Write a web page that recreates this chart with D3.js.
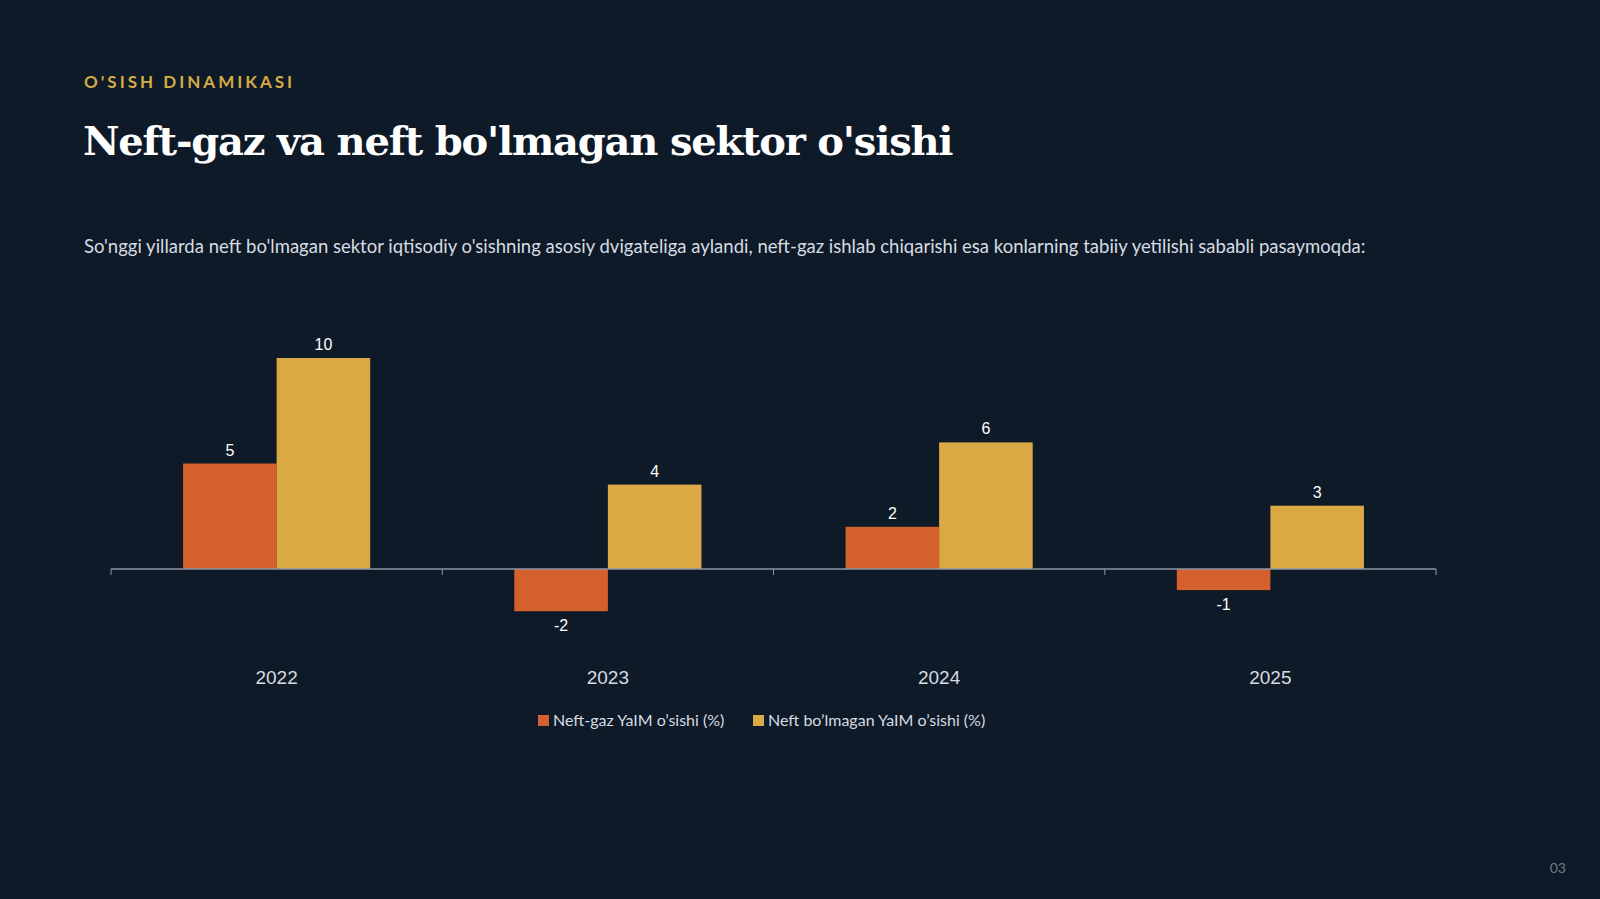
<!DOCTYPE html>
<html><head><meta charset="utf-8">
<script src="https://cdn.jsdelivr.net/npm/d3@7"></script>
<style>body{margin:0;background:#0e1a27;}svg{display:block}</style>
</head><body><svg id="c" width="1600" height="899"></svg>
<script>
const years = ["2022","2023","2024","2025"];
const seriesNames = ["Neft-gaz YaIM o\u2019sishi (%)","Neft bo\u2019lmagan YaIM o\u2019sishi (%)"];
const oilGas = [5,-2,2,-1];
const nonOil = [10,4,6,3];
const colors = ["#d4612d","#dba944"];

const svg = d3.select("#c");
svg.append("rect").attr("width",1600).attr("height",899).attr("fill","#0e1a27");
svg.append("text").attr("x",84).attr("y",88).attr("fill","#d4ab45").attr("font-family","Lato").attr("font-weight",700).attr("font-size",17).attr("letter-spacing",3).text("O'SISH DINAMIKASI");
svg.append("text").attr("x",83).attr("y",155).attr("fill","#fff").attr("font-family","DejaVu Serif").attr("font-weight",700).attr("font-size",40).attr("letter-spacing",-1.2).text("Neft-gaz va neft bo'lmagan sektor o'sishi");
svg.append("text").attr("x",84).attr("y",253).attr("fill","#d6dbe2").attr("font-family","Lato").attr("font-size",18.5).text("So'nggi yillarda neft bo'lmagan sektor iqtisodiy o'sishning asosiy dvigateliga aylandi, neft-gaz ishlab chiqarishi esa konlarning tabiiy yetilishi sababli pasaymoqda:");
svg.append("text").attr("x",1566).attr("y",873).attr("text-anchor","end").attr("fill","#6f7a88").attr("font-family","Lato").attr("font-size",14).text("03");

const x0 = d3.scaleBand().domain(years).range([111,1436]);
const x1 = d3.scaleBand().domain([0,1]).range([0,x0.bandwidth()]).paddingInner(0).paddingOuter(0.77);
const y = d3.scaleLinear().domain([0,10]).range([569,358]);
const data = years.map((yr,i)=>({yr,vals:[oilGas[i],nonOil[i]]}));

const g = svg.append("g");
data.forEach(d=>{
  d.vals.forEach((v,s)=>{
    const bx = x0(d.yr)+x1(s), w = x1.bandwidth();
    g.append("rect").attr("x",bx).attr("width",w).attr("y",y(Math.max(0,v))).attr("height",Math.abs(y(v)-y(0))).attr("fill",colors[s]);
    g.append("text").attr("x",bx+w/2).attr("y",v>=0?y(v)-8:y(v)+20).attr("text-anchor","middle").attr("fill","#fff").attr("font-family","Liberation Sans").attr("font-size",16).text(v);
  });
});
const ax = svg.append("g").attr("transform","translate(0,569)");
ax.append("line").attr("x1",111).attr("x2",1436).attr("stroke","#8a96a4").attr("stroke-width",1.5);
x0.domain().concat(["end"]).forEach((d,i)=>{
  const xx = 111+i*x0.bandwidth();
  ax.append("line").attr("x1",xx).attr("x2",xx).attr("y1",0).attr("y2",6).attr("stroke","#8a96a4");
});
years.forEach(yr=>{
  svg.append("text").attr("x",x0(yr)+x0.bandwidth()/2).attr("y",684).attr("text-anchor","middle").attr("fill","#d6dbe2").attr("font-family","Liberation Sans").attr("font-size",19).text(yr);
});
const leg = svg.append("g");
const legX = [538,753];
seriesNames.forEach((n,i)=>{
  leg.append("rect").attr("x",legX[i]).attr("y",715).attr("width",11).attr("height",11).attr("fill",colors[i]);
  leg.append("text").attr("x",legX[i]+15).attr("y",726).attr("fill","#d6dbe2").attr("font-family","Lato").attr("font-size",16).text(n);
});
</script></body></html>
